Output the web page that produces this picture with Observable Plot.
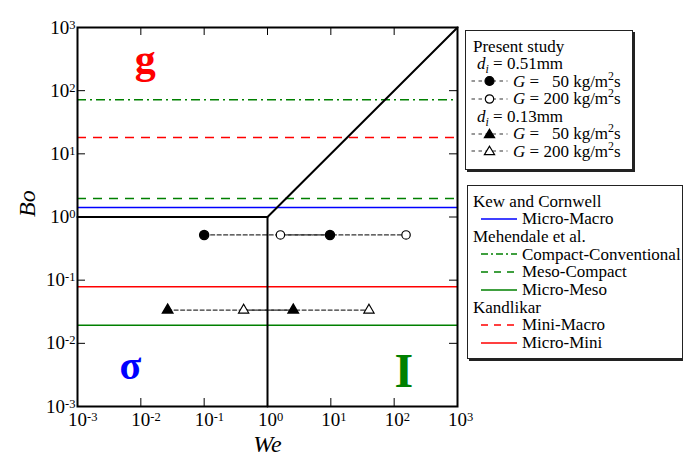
<!DOCTYPE html>
<html><head><meta charset="utf-8">
<script src="https://cdn.jsdelivr.net/npm/d3@7"></script>
<script src="https://cdn.jsdelivr.net/npm/@observablehq/plot@0.6"></script>
<style>
body{margin:0;background:#fff;}
#wrap{position:relative;width:683px;height:457px;font-family:"Liberation Serif","LiberationSerif","Tinos","DejaVu Serif",serif;}
#wrap svg.plot{display:block;}
.box{position:absolute;border:1px solid #222;box-shadow:2px 2px 0 #222;background:#fff;}
.row{position:absolute;font-size:17px;line-height:1;white-space:nowrap;color:#000;}
.row sup{font-size:0.7em;vertical-align:0.55em;line-height:0;}
.row sub{font-size:0.7em;vertical-align:-0.3em;line-height:0;}
.sym{position:absolute;overflow:visible;}
.num{display:inline-block;width:1.5em;text-align:right;}
</style></head><body><div id="wrap"></div>
<script>
// ---------- data ----------
const tickValues = [1e-3, 1e-2, 1e-1, 1, 10, 100, 1000];

// transition criteria (horizontal Bo lines)
const criteriaNames = ["Micro-Macro", "Compact-Conventional", "Meso-Compact", "Micro-Meso", "Mini-Macro", "Micro-Mini"];
const criteriaBo = [1.42, 72, 1.97, 0.0194, 18.1, 0.0785];

// regime boundaries
const boundaryWe = [1e-3, 1, 1000];
const boundaryBo = [1, 1, 1000];
const boundaryVertWe = [1, 1];
const boundaryVertBo = [1e-3, 1];

// present study
const d051_G50_We = [0.1, 9.7];
const d051_G200_We = [1.6, 154];
const d051_Bo = 0.52;
const d013_G50_We = [0.0265, 2.55];
const d013_G200_We = [0.42, 40];
const d013_Bo = 0.0336;

// regime labels
const regionLabels = ["g", "σ", "I"];
const regionWe = [0.0117, 0.00684, 141.6];
const regionBo = [316, 0.00435, 0.00363];

// legend texts
const legendGroups = [
  {head: "Kew and Cornwell", items: ["Micro-Macro"]},
  {head: "Mehendale et al.", items: ["Compact-Conventional", "Meso-Compact", "Micro-Meso"]},
  {head: "Kandlikar", items: ["Mini-Macro", "Micro-Mini"]}
];

// ---------- styles ----------
const FONT = "'Liberation Serif', 'LiberationSerif', 'Tinos', 'DejaVu Serif', serif";
const criteriaStyle = {
  "Micro-Macro": {stroke: "#0000ff", dash: undefined},
  "Compact-Conventional": {stroke: "#008000", dash: "9,4,2,4"},
  "Meso-Compact": {stroke: "#008000", dash: "9,7"},
  "Micro-Meso": {stroke: "#008000", dash: undefined},
  "Mini-Macro": {stroke: "#ff0000", dash: "9,7"},
  "Micro-Mini": {stroke: "#ff0000", dash: undefined}
};
const regionColor = ["#ff0000", "#0000ff", "#008000"];
const regionSize = [42, 40, 48];

const W = 683, H = 457;
const margin = {top: 27, right: 226, bottom: 51, left: 77};
const plotW = W - margin.left - margin.right;
const plotH = H - margin.top - margin.bottom;
const tickLen = 8;

const pts = (xs, ys) => xs.map((x, i) => ({we: x, bo: Array.isArray(ys) ? ys[i] : ys}));
const fmt = d => `10^${Math.round(Math.log10(d))}`;
const studyLine = {x: "we", y: "bo", stroke: "#333", strokeWidth: 1.2, strokeDasharray: "4,2.5"};

const marks = [
  ...criteriaNames.map((n, i) => Plot.ruleY([criteriaBo[i]], {
    stroke: criteriaStyle[n].stroke, strokeDasharray: criteriaStyle[n].dash, strokeWidth: 1.5
  })),
  Plot.line(pts(d051_G50_We, d051_Bo), studyLine),
  Plot.line(pts(d051_G200_We, d051_Bo), studyLine),
  Plot.line(pts(d013_G50_We, d013_Bo), studyLine),
  Plot.line(pts(d013_G200_We, d013_Bo), studyLine),
  Plot.line(pts(boundaryWe, boundaryBo), {x: "we", y: "bo", stroke: "black", strokeWidth: 2}),
  Plot.line(pts(boundaryVertWe, boundaryVertBo), {x: "we", y: "bo", stroke: "black", strokeWidth: 2}),
  Plot.dot(pts(d051_G50_We, d051_Bo), {x: "we", y: "bo", symbol: "circle", r: 4.5, fill: "black", stroke: "black"}),
  Plot.dot(pts(d051_G200_We, d051_Bo), {x: "we", y: "bo", symbol: "circle", r: 4.2, fill: "white", stroke: "black", strokeWidth: 1.2}),
  Plot.dot(pts(d013_G50_We, d013_Bo), {x: "we", y: "bo", symbol: "triangle", r: 3.8, fill: "black", stroke: "black"}),
  Plot.dot(pts(d013_G200_We, d013_Bo), {x: "we", y: "bo", symbol: "triangle", r: 3.8, fill: "white", stroke: "black", strokeWidth: 1.2}),
  ...regionLabels.map((l, i) => Plot.text([{we: regionWe[i], bo: regionBo[i], t: l}], {
    x: "we", y: "bo", text: "t", fill: regionColor[i], fontSize: regionSize[i], fontWeight: "bold"
  })),
  Plot.frame({stroke: "black", strokeWidth: 2}),
  Plot.tickX(tickValues, {x: d => d, insetTop: plotH - tickLen, stroke: "black"}),
  Plot.tickX(tickValues, {x: d => d, insetBottom: plotH - tickLen, stroke: "black"}),
  Plot.tickY(tickValues, {y: d => d, insetRight: plotW - tickLen, stroke: "black"}),
  Plot.tickY(tickValues, {y: d => d, insetLeft: plotW - tickLen, stroke: "black"}),
  Plot.axisX({ticks: tickValues, tickSize: 0, tickPadding: 6, tickFormat: fmt, fontSize: 19, label: null}),
  Plot.axisY({ticks: tickValues, tickSize: 0, tickPadding: 2, tickFormat: fmt, fontSize: 19, label: null}),
  Plot.text(["We"], {frameAnchor: "bottom", dy: 45, text: d => d, fontSize: 24, fontStyle: "italic"}),
  Plot.text(["Bo"], {frameAnchor: "left", dx: -50, rotate: -90, text: d => d, fontSize: 24, fontStyle: "italic"})
];

const svg = Plot.plot({
  width: W, height: H,
  marginTop: margin.top, marginRight: margin.right, marginBottom: margin.bottom, marginLeft: margin.left,
  x: {type: "log", domain: [1e-3, 1e3]},
  y: {type: "log", domain: [1e-3, 1e3]},
  style: {fontFamily: FONT, fontSize: "19px", background: "white", color: "black", overflow: "visible"},
  marks
});
svg.classList.add("plot");

// superscript exponents on tick labels
function supify(sel, isX) {
  sel.each(function() {
    const m = /^10\^(-?\d+)$/.exec(this.textContent);
    if (!m) return;
    const t = d3.select(this);
    t.text("10");
    t.append("tspan").attr("font-size", 12.5).attr("dy", -5).text(m[1]);
    if (isX) t.attr("text-anchor", "start").attr("dx", -9.5);
  });
}
supify(d3.select(svg).selectAll('g[aria-label="x-axis tick label"] text'), true);
supify(d3.select(svg).selectAll('g[aria-label="y-axis tick label"] text'), false);
d3.select(svg).selectAll("text").style("font-family", FONT);

const wrap = document.getElementById("wrap");
wrap.appendChild(svg);

// ---------- legends ----------
const BASE = 14.2;
let html = "";
const row = (left, baseline, content) => `<div class="row" style="left:${left}px;top:${(baseline - BASE).toFixed(1)}px">${content}</div>`;

// legend 1: present study
html += `<div class="box" style="left:465px;top:30px;width:166px;height:138px"></div>`;
const marker = (sym, fill) => sym === "circle"
  ? `<circle cx="18.5" cy="7" r="${fill === "black" ? 4.5 : 4.2}" fill="${fill}" stroke="black" stroke-width="1.2"/>`
  : `<path d="M18.5,2.2 L23.6,10.6 L13.4,10.6 Z" fill="${fill}" stroke="black" stroke-width="1.2"/>`;
const symRow = (baseline, sym, fill, g) =>
  `<svg class="sym" width="37" height="14" style="left:471px;top:${(baseline - 6 - 7).toFixed(1)}px">` +
  `<line x1="0.5" x2="36.5" y1="7" y2="7" stroke="#333" stroke-width="1.2" stroke-dasharray="3.5,3.5"/>${marker(sym, fill)}</svg>` +
  row(513, baseline, `<i>G</i> = <span class="num">${g}</span> kg/m<sup>2</sup>s`);
const b1 = [51.7, 69.2, 86.9, 104.5, 122.1, 139.6, 157.1];
html += row(473, b1[0], "Present study");
html += row(477, b1[1], `<i>d</i><sub><i>i</i></sub> = 0.51mm`);
html += symRow(b1[2], "circle", "black", "50");
html += symRow(b1[3], "circle", "white", "200");
html += row(477, b1[4], `<i>d</i><sub><i>i</i></sub> = 0.13mm`);
html += symRow(b1[5], "triangle", "black", "50");
html += symRow(b1[6], "triangle", "white", "200");

// legend 2: criteria
html += `<div class="box" style="left:467px;top:185px;width:214px;height:172px"></div>`;
let k = 0;
const b2start = 206.7, b2step = 17.7;
for (const g of legendGroups) {
  html += row(473, b2start + k * b2step, g.head); k++;
  for (const it of g.items) {
    const bl = b2start + k * b2step;
    const st = criteriaStyle[it];
    html += `<svg class="sym" width="36" height="6" style="left:481px;top:${(bl - 5.5 - 3).toFixed(1)}px">` +
      `<line x1="0" x2="36" y1="3" y2="3" stroke="${st.stroke}" stroke-width="1.6" ${st.dash ? `stroke-dasharray="${st.dash === "9,4,2,4" ? "7,3,2,3" : "7,6"}"` : ""}/></svg>`;
    html += row(522, bl, it);
    k++;
  }
}
const lg = document.createElement("div");
lg.innerHTML = html;
while (lg.firstChild) wrap.appendChild(lg.firstChild);
</script></body></html>
